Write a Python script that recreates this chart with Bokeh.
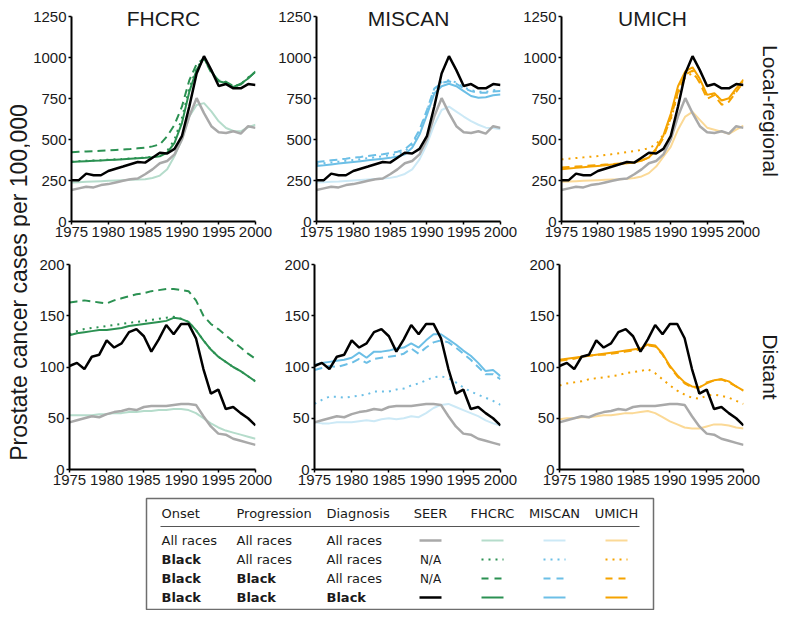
from bokeh.plotting import figure
from bokeh.layouts import row, column
from bokeh.models import Range1d, FixedTicker, LinearAxis, Label, ColumnDataSource
from bokeh.core.properties import value
from bokeh.embed import file_html
from bokeh.resources import INLINE
import math

# ---------------- data ----------------
years = list(range(1975, 2001))
x_ticks = [1975, 1980, 1985, 1990, 1995, 2000]
lr_ticks = [0, 250, 500, 750, 1000, 1250]
d_ticks = [0, 50, 100, 150, 200]
models = ["FHCRC", "MISCAN", "UMICH"]
stages = ["Local-regional", "Distant"]

# SEER observed (same in every panel of a row)
seer_all_lr = [192, 202, 212, 208, 222, 228, 238, 248, 258, 262, 288, 318, 355, 369, 409, 500, 641, 752, 661, 581, 544, 540, 550, 536, 581, 571]
seer_black_lr = [252, 252, 292, 282, 282, 308, 322, 335, 349, 363, 359, 389, 419, 415, 443, 520, 700, 903, 1008, 923, 826, 838, 812, 812, 838, 832]
seer_all_d = [46, 48, 50, 52, 51, 54, 56, 57, 59, 58, 61, 62, 62, 62, 63, 64, 64, 63, 52, 42, 35, 34, 30, 28, 26, 24]
seer_black_d = [101, 104, 98, 110, 112, 126, 119, 123, 134, 137, 130, 115, 127, 141, 132, 142, 142, 128, 98, 74, 78, 59, 61, 55, 50, 43]

# FHCRC
fh_all_lr = [238, 240, 242, 244, 246, 248, 250, 252, 254, 256, 258, 265, 280, 318, 399, 500, 641, 710, 722, 671, 611, 570, 552, 550, 575, 590]
fh_dot_lr = [365, 368, 370, 372, 374, 377, 379, 381, 384, 387, 390, 395, 402, 430, 500, 630, 810, 935, 998, 912, 858, 848, 822, 838, 878, 912]
fh_dash_lr = [423, 425, 427, 429, 431, 433, 436, 439, 442, 446, 450, 458, 470, 520, 590, 700, 860, 960, 995, 905, 860, 852, 825, 835, 875, 912]
fh_solid_lr = [363, 366, 368, 370, 372, 375, 377, 379, 382, 385, 388, 392, 398, 420, 480, 600, 790, 925, 995, 915, 855, 845, 820, 840, 872, 915]
fh_all_d = [53, 53, 53, 53, 54, 54, 55, 55, 56, 56, 57, 57, 58, 58, 59, 59, 58, 55, 50, 45, 41, 38, 36, 34, 32, 30]
fh_dot_d = [132, 135, 137, 138, 139, 140, 141, 142, 143, 144, 145, 146, 147, 148, 149, 147, 144, 136, 126, 117, 110, 105, 100, 96, 91, 86]
fh_dash_d = [163, 164, 165, 164, 163, 162, 165, 167, 169, 171, 172, 174, 175, 176, 176, 175, 174, 165, 150, 142, 137, 131, 125, 119, 113, 108]
fh_solid_d = [131, 133, 134, 135, 136, 136, 137, 138, 140, 141, 142, 143, 144, 145, 148, 147, 144, 136, 126, 117, 110, 105, 100, 96, 91, 86]

# MISCAN
mi_all_lr = [238, 240, 242, 244, 247, 250, 253, 256, 259, 262, 266, 275, 290, 318, 379, 470, 590, 680, 700, 670, 640, 612, 590, 572, 570, 562]
mi_dot_lr = [350, 355, 360, 365, 370, 375, 380, 386, 392, 398, 404, 412, 428, 468, 550, 672, 805, 850, 862, 848, 818, 800, 792, 790, 800, 805]
mi_dash_lr = [363, 368, 373, 378, 383, 389, 394, 400, 405, 410, 417, 425, 440, 478, 560, 680, 810, 845, 855, 840, 812, 795, 785, 785, 792, 795]
mi_solid_lr = [339, 343, 348, 353, 358, 363, 368, 373, 378, 383, 388, 396, 410, 450, 530, 650, 780, 825, 840, 825, 795, 765, 755, 758, 770, 775]
mi_all_d = [46, 45, 45, 46, 46, 46, 47, 48, 47, 49, 50, 49, 50, 52, 51, 55, 60, 63, 64, 61, 58, 55, 52, 48, 45, 43]
mi_dot_d = [64, 68, 71, 71, 70, 71, 72, 73, 76, 76, 76, 78, 79, 82, 84, 87, 90, 91, 89, 85, 80, 76, 73, 70, 67, 63]
mi_dash_d = [97, 99, 101, 100, 102, 104, 108, 104, 108, 109, 110, 111, 113, 118, 113, 119, 124, 126, 124, 119, 113, 107, 100, 93, 93, 88]
mi_solid_d = [102, 104, 105, 106, 107, 109, 114, 109, 115, 115, 116, 118, 119, 123, 119, 126, 132, 132, 127, 122, 116, 111, 104, 96, 97, 91]

# UMICH
um_all_lr = [242, 244, 246, 248, 250, 252, 254, 256, 258, 261, 265, 275, 295, 335, 395, 455, 560, 640, 668, 620, 572, 560, 548, 535, 560, 585]
um_dot_lr = [379, 383, 387, 391, 395, 399, 405, 411, 417, 423, 429, 437, 447, 470, 530, 620, 780, 880, 905, 855, 765, 780, 740, 742, 800, 860]
um_dash_lr = [329, 332, 335, 338, 341, 344, 347, 350, 353, 356, 360, 372, 390, 435, 510, 630, 790, 895, 920, 845, 748, 770, 712, 730, 790, 850]
um_solid_lr = [319, 323, 327, 331, 335, 339, 343, 347, 351, 355, 359, 372, 390, 445, 525, 655, 825, 915, 940, 870, 772, 782, 738, 752, 812, 865]
um_all_d = [49, 50, 50, 51, 51, 52, 53, 53, 54, 55, 55, 56, 57, 55, 51, 47, 44, 41, 40, 40, 42, 44, 44, 43, 41, 40]
um_dot_d = [82, 84, 85, 86, 88, 89, 90, 91, 92, 94, 95, 96, 98, 94, 88, 82, 77, 73, 70, 69, 72, 73, 72, 70, 67, 64]
um_dash_d = [106, 107, 108, 110, 111, 112, 112, 113, 114, 115, 116, 117, 121, 120, 112, 100, 91, 84, 80, 80, 85, 87, 88, 85, 81, 77]
um_solid_d = [107, 108, 109, 110, 111, 112, 113, 114, 115, 116, 117, 118, 122, 121, 113, 101, 92, 85, 81, 80, 84, 87, 88, 86, 81, 77]

# legend table
legend_headers = ["Onset", "Progression", "Diagnosis", "SEER", "FHCRC", "MISCAN", "UMICH"]
legend_onset = ["All races", "Black", "Black", "Black"]
legend_progression = ["All races", "All races", "Black", "Black"]
legend_diagnosis = ["All races", "All races", "All races", "Black"]
legend_seer = ["line", "N/A", "N/A", "line"]

# ---------------- styles ----------------
FONT = "Liberation Sans"
TXT = "#1a1a1a"
SEER_ALL = "#a9a9a9"
SEER_BLACK = "#000000"
dark = {"FHCRC": "#2b9152", "MISCAN": "#6cbfe6", "UMICH": "#f5a300"}
light = {"FHCRC": "#b5dccb", "MISCAN": "#cce9f6", "UMICH": "#fbd996"}
DOT = "2 5"
DASH = "8 5"

series = {
    ("FHCRC", "Local-regional"): (fh_all_lr, fh_dot_lr, fh_dash_lr, fh_solid_lr),
    ("MISCAN", "Local-regional"): (mi_all_lr, mi_dot_lr, mi_dash_lr, mi_solid_lr),
    ("UMICH", "Local-regional"): (um_all_lr, um_dot_lr, um_dash_lr, um_solid_lr),
    ("FHCRC", "Distant"): (fh_all_d, fh_dot_d, fh_dash_d, fh_solid_d),
    ("MISCAN", "Distant"): (mi_all_d, mi_dot_d, mi_dash_d, mi_solid_d),
    ("UMICH", "Distant"): (um_all_d, um_dot_d, um_dash_d, um_solid_d),
}
seer = {"Local-regional": (seer_all_lr, seer_black_lr), "Distant": (seer_all_d, seer_black_d)}
ytop = {"Local-regional": 1250, "Distant": 200}
yticks = {"Local-regional": lr_ticks, "Distant": d_ticks}

fig_w = [245, 245, 264]
border_r = [20, 20, 39]
FRAME_H = 205
row_h = {"Local-regional": 246, "Distant": 248}
# top row: frame extends into the title area (axis bounded at 1250); title drawn inside
head_px = {"Local-regional": 16, "Distant": 0}
border_t = {"Local-regional": 0, "Distant": 18}


def make_panel(mi, stage):
    m = models[mi]
    y_end = ytop[stage] * (FRAME_H + head_px[stage]) / FRAME_H
    p = figure(width=fig_w[mi], height=row_h[stage],
               x_range=Range1d(1975, 2000), y_range=Range1d(0, y_end),
               output_backend="svg", toolbar_location=None,
               min_border_left=39, min_border_right=border_r[mi],
               min_border_top=border_t[stage], min_border_bottom=25)
    p.outline_line_color = None
    p.xgrid.visible = False
    p.ygrid.visible = False
    p.xaxis.ticker = FixedTicker(ticks=x_ticks)
    p.yaxis.ticker = FixedTicker(ticks=yticks[stage])
    p.yaxis.bounds = (0, ytop[stage])
    for ax in (p.xaxis[0], p.yaxis[0]):
        ax.axis_line_width = 2
        ax.axis_line_color = "black"
        ax.major_tick_in = 0
        ax.major_tick_out = 3
        ax.major_tick_line_width = 1.5
        ax.major_tick_line_color = "black"
        ax.minor_tick_line_color = None
        ax.major_label_text_font = FONT
        ax.major_label_text_font_size = "15px"
        ax.major_label_text_color = TXT
        ax.major_label_standoff = 2

    allr, dot, dash, solid = series[(m, stage)]
    s_all, s_black = seer[stage]
    src = ColumnDataSource(dict(year=years, allr=allr, dot=dot, dash=dash, solid=solid,
                                s_all=s_all, s_black=s_black))
    p.line("year", "allr", source=src, line_color=light[m], line_width=2)
    p.line("year", "s_all", source=src, line_color=SEER_ALL, line_width=2.5)
    p.line("year", "dot", source=src, line_color=dark[m], line_width=2, line_dash=DOT)
    p.line("year", "dash", source=src, line_color=dark[m], line_width=2, line_dash=DASH)
    p.line("year", "solid", source=src, line_color=dark[m], line_width=2)
    p.line("year", "s_black", source=src, line_color=SEER_BLACK, line_width=2.5)

    if stage == "Local-regional":
        p.add_layout(Label(x=(x_ticks[0] + x_ticks[-1]) / 2, y=ytop[stage], y_offset=-2,
                           text=m, text_align="center", text_baseline="alphabetic",
                           text_font=FONT, text_font_size="21px", text_color=TXT))
    if mi == 2:
        ax = LinearAxis(ticker=FixedTicker(ticks=[]), axis_label=stage,
                        axis_line_color=None, major_tick_line_color=None,
                        minor_tick_line_color=None, major_tick_out=0, major_tick_in=0,
                        major_label_standoff=0, axis_label_standoff=15,
                        axis_label_text_font=FONT, axis_label_text_font_size="21px",
                        axis_label_text_font_style="normal", axis_label_text_color=TXT)
        p.add_layout(ax, "right")
    return p


top = [make_panel(i, "Local-regional") for i in range(3)]
bot = [make_panel(i, "Distant") for i in range(3)]

# y label strip
ylab = figure(width=30, height=494, x_range=Range1d(0, 30), y_range=Range1d(0, 494),
              output_backend="svg", toolbar_location=None,
              min_border_left=0, min_border_right=0, min_border_top=0, min_border_bottom=0)
ylab.outline_line_color = None
ylab.axis.visible = False
ylab.grid.visible = False
ylab.text(x=[18], y=[212], text=["Prostate cancer cases per 100,000"], angle=math.pi / 2,
          text_align="center", text_baseline="alphabetic",
          text_font=value(FONT), text_font_size=value("23px"), text_color=TXT)

# legend table
lg = figure(width=784, height=116, x_range=Range1d(8, 792), y_range=Range1d(618, 502),
            output_backend="svg", toolbar_location=None,
            min_border_left=0, min_border_right=0, min_border_top=0, min_border_bottom=0)
lg.outline_line_color = None
lg.axis.visible = False
lg.grid.visible = False

box_l, box_r, box_t, box_b = 154, 661, 506, 617
head_y = 521
rule_y = 534
rows_y = [548, 567, 586, 605]
text_cols = [169, 244, 334]
line_cols = [438, 500, 562, 624]
half = 11

lg.quad(left=[box_l], right=[box_r], top=[box_t], bottom=[box_b],
        fill_color=None, line_color="#6e6e6e", line_width=1.5)
lg.line([text_cols[0] - 1, box_r - 14], [rule_y, rule_y], line_color="#555555", line_width=1.2)

LFONT = value("DejaVu Sans")
LSIZE = value("13px")
lg.text(x=text_cols, y=[head_y] * 3, text=legend_headers[:3], text_align="left",
        text_baseline="middle", text_font=LFONT, text_font_size=LSIZE, text_color=TXT)
lg.text(x=line_cols, y=[head_y] * 4, text=legend_headers[3:], text_align="center",
        text_baseline="middle", text_font=LFONT, text_font_size=LSIZE, text_color=TXT)

tx, ty, tt, ts = [], [], [], []
for ci, col in enumerate([legend_onset, legend_progression, legend_diagnosis]):
    for ri, t in enumerate(col):
        tx.append(text_cols[ci]); ty.append(rows_y[ri]); tt.append(t)
        ts.append("bold" if t == "Black" else "normal")
lg.text(x="x", y="y", text="t", text_font_style="s",
        source=ColumnDataSource(dict(x=tx, y=ty, t=tt, s=ts)),
        text_align="left", text_baseline="middle", text_font=LFONT,
        text_font_size=LSIZE, text_color=TXT)

na_y = [rows_y[i] for i, v in enumerate(legend_seer) if v == "N/A"]
lg.text(x=[line_cols[0]] * len(na_y), y=na_y, text=["N/A"] * len(na_y), text_align="center",
        text_baseline="middle", text_font=LFONT, text_font_size=value("12px"), text_color=TXT)

lg.line([line_cols[0] - half, line_cols[0] + half], [rows_y[0]] * 2, line_color=SEER_ALL, line_width=2.5)
lg.line([line_cols[0] - half, line_cols[0] + half], [rows_y[3]] * 2, line_color=SEER_BLACK, line_width=2.5)
for mi, m in enumerate(models):
    cx = line_cols[mi + 1]
    xs = [cx - half, cx + half]
    lg.line(xs, [rows_y[0]] * 2, line_color=light[m], line_width=2)
    lg.line(xs, [rows_y[1]] * 2, line_color=dark[m], line_width=2, line_dash=DOT)
    lg.line(xs, [rows_y[2]] * 2, line_color=dark[m], line_width=2, line_dash="7 6")
    lg.line(xs, [rows_y[3]] * 2, line_color=dark[m], line_width=2)

layout = column(row(ylab, column(row(*top), row(*bot))), lg)
open("out.html", "w").write(file_html(layout, INLINE))
